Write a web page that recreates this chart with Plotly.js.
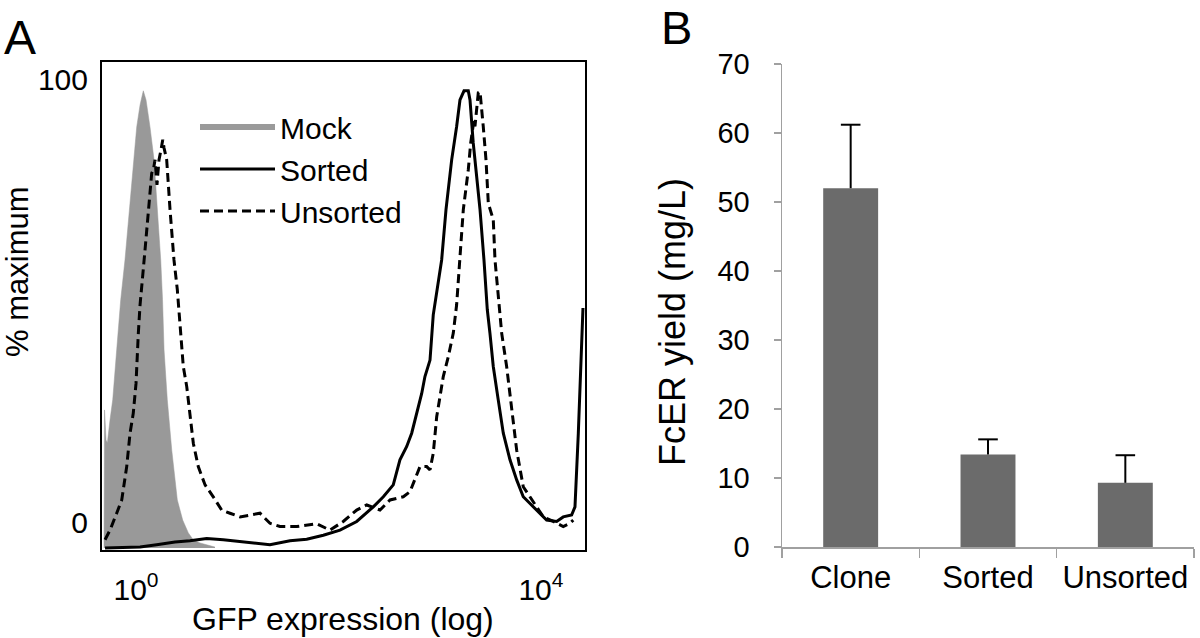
<!DOCTYPE html>
<html><head><meta charset="utf-8">
<script src="https://cdn.plot.ly/plotly-3.0.1.min.js"></script>
<style>html,body{margin:0;padding:0;background:#fff}#chart{width:1200px;height:638px}</style>
</head><body><div id="chart"></div>
<script>
const FONT = '"Liberation Sans", Arial, Helvetica, sans-serif';

// ---- Panel A: GFP histograms (x = log10 GFP, y = % of maximum) ----
const mockLogGFP = [-0.316,-0.311,-0.296,-0.283,-0.257,-0.230,-0.191,-0.151,-0.109,-0.066,-0.027,0.007,0.040,0.072,0.099,0.138,0.178,0.214,0.244,0.262,0.277,0.309,0.353,0.408,0.461,0.517,0.566,0.632,0.698,0.780];
const mockPct    = [0,30.2,23.6,23.0,28.0,32.4,43.3,54.3,63.0,74.0,84.9,92.1,96.9,100,98.0,92.1,84.9,74.0,63.0,54.3,43.3,32.4,21.4,10.5,6.1,3.3,1.75,1.1,0.66,0.2];

const sortedLogGFP = [-0.306,0.040,0.204,0.385,0.533,0.698,0.862,1.027,1.192,1.323,1.521,1.686,1.850,2.015,2.180,2.344,2.443,2.541,2.607,2.674,2.723,2.772,2.822,2.854,2.904,2.936,3.019,3.062,3.101,3.118,3.167,3.200,3.240,3.282,3.299,3.331,3.365,3.398,3.437,3.470,3.496,3.529,3.578,3.628,3.694,3.760,3.825,3.924,3.990,4.056,4.155,4.220,4.303,4.336,4.369,4.402,4.415];
const sortedPct    = [0,0.2,0.7,1.3,1.6,2.1,1.8,1.4,1.0,0.7,1.6,1.9,2.8,3.9,5.8,9.0,11.2,13.8,19.3,22.2,25.1,29.5,33.8,37.5,41.1,51.0,63.0,74.0,82.0,84.9,92.2,98.0,100,100,98.0,88.6,81.2,74.0,63.0,52.1,47.0,39.7,32.4,25.1,19.3,14.9,11.2,9.0,7.6,6.1,5.8,6.8,7.2,9.0,25.1,47.0,52.5];

const unsortedLogGFP = [-0.306,-0.257,-0.191,-0.141,-0.092,-0.059,-0.027,0,0.023,0.040,0.089,0.121,0.155,0.171,0.188,0.207,0.227,0.247,0.264,0.277,0.303,0.336,0.375,0.408,0.428,0.467,0.501,0.533,0.566,0.615,0.682,0.763,0.846,0.928,1.027,1.126,1.225,1.323,1.422,1.587,1.785,1.916,2.047,2.180,2.279,2.410,2.509,2.640,2.706,2.805,2.871,2.904,2.936,2.970,3.035,3.085,3.134,3.167,3.200,3.233,3.282,3.306,3.338,3.348,3.381,3.398,3.430,3.457,3.480,3.529,3.546,3.578,3.612,3.661,3.711,3.760,3.825,3.892,3.958,4.023,4.122,4.220,4.286,4.319];
const unsortedPct    = [1.8,3.9,7.6,10.5,17.8,25.1,29.5,36.0,47.0,53.2,65.2,74.0,82.0,82.7,84.9,79.4,84.9,87.1,89.3,87.5,84.9,74.0,63.0,56.5,50.3,39.7,35.3,28.7,22.9,17.8,13.8,11.2,8.3,7.6,6.8,7.2,7.6,5.4,4.7,4.7,5.3,3.9,5.8,8.3,9.4,8.3,10.5,11.2,12.3,17.8,17.8,17.1,20.7,28.7,37.5,41.9,47.0,53.2,63.0,74.0,82.7,88.6,93.6,92.2,99.6,99.8,92.2,84.9,75.4,71.8,63.0,55.1,47.0,39.7,30.9,21.4,13.4,11.2,9.0,6.8,5.8,4.7,5.4,6.1];

const histLegend = ['Mock','Sorted','Unsorted'];
const histTickVals = [0, 4];
const histTickText = ['10<sup>0</sup>', '10<sup>4</sup>'];
const pctTickText = ['0', '100'];

// ---- Panel B: FcER yield ----
const yieldCategories = ['Clone','Sorted','Unsorted'];
const yieldValues = [52.0, 13.4, 9.3];
const yieldErrors = [9.2, 2.2, 4.0];

const W = 1200, H = 638;
const px = v => v / W, py = v => 1 - v / H;

const traces = [
  {x: mockLogGFP, y: mockPct, type:'scatter', mode:'lines', fill:'tozeroy',
   fillcolor:'#999999', line:{color:'#999999', width:0.5}, showlegend:false, xaxis:'x', yaxis:'y', hoverinfo:'skip'},
  {x:[null], y:[null], type:'scatter', mode:'lines', name: histLegend[0],
   line:{color:'#9a9a9a', width:6}, xaxis:'x', yaxis:'y'},
  {x: sortedLogGFP, y: sortedPct, type:'scatter', mode:'lines', name: histLegend[1],
   line:{color:'#000', width:3}, xaxis:'x', yaxis:'y'},
  {x: unsortedLogGFP, y: unsortedPct, type:'scatter', mode:'lines', name: histLegend[2],
   line:{color:'#000', width:3, dash:'9px,5px'}, xaxis:'x', yaxis:'y'},
  {x: yieldCategories, y: yieldValues, type:'bar', showlegend:false,
   marker:{color:'#6b6b6b'}, xaxis:'x2', yaxis:'y2',
   error_y:{type:'data', array: yieldErrors, arrayminus: yieldErrors.map(()=>0), symmetric:false,
            color:'#000', thickness:2, width:0}},
  // caps on the upper end of the one-sided error bars
  {x: yieldCategories, y: yieldValues.map((v,i)=>v + yieldErrors[i]), type:'scatter', mode:'markers',
   showlegend:false, xaxis:'x2', yaxis:'y2', cliponaxis:false,
   marker:{symbol:'line-ew', size:14, color:'#000', line:{color:'#000', width:2}}}
];

const layout = {
  width: W, height: H,
  margin:{l:0, r:0, t:0, b:0},
  paper_bgcolor:'#fff', plot_bgcolor:'rgba(0,0,0,0)',
  font:{family: FONT, size: 30, color:'#000'},
  showlegend: true,
  legend:{x: px(195), y: py(101), xanchor:'left', yanchor:'top', bgcolor:'rgba(0,0,0,0)',
          font:{family: FONT, size: 30, color:'#000'}, itemwidth: 75, tracegroupgap: 0},
  bargap: 0.6,
  xaxis:{domain:[px(102), px(585)], range:[-0.336, 4.435], showgrid:false, zeroline:false,
         showline:true, mirror:true, linecolor:'#000', linewidth:2, ticks:'',
         tickvals: histTickVals, ticktext: histTickText, ticklabelstandoff: 12,
         tickfont:{family: FONT, size: 30}, anchor:'y'},
  yaxis:{domain:[py(550), py(62)], range:[-0.44, 106.3], showgrid:false, zeroline:false,
         showline:true, mirror:true, linecolor:'#000', linewidth:2, ticks:'',
         tickvals:[5.5, 102.5], ticktext: pctTickText, ticklabelstandoff: 6,
         tickfont:{family: FONT, size: 30}, anchor:'x'},
  xaxis2:{domain:[px(782), px(1194)], type:'category', showgrid:false, zeroline:false,
          showline:true, linecolor:'#a0a0a0', linewidth:1.5, ticks:'outside', tickson:'boundaries',
          ticklen:9, tickwidth:1.5, tickcolor:'#a0a0a0', ticklabelstandoff: 2, tickangle:0,
          tickfont:{family: FONT, size: 31}, anchor:'y2'},
  yaxis2:{domain:[py(547), py(64)], range:[0, 70], dtick:10, showgrid:false, zeroline:false,
          showline:true, linecolor:'#a0a0a0', linewidth:1.5, ticks:'outside', ticklen:7,
          tickwidth:1.5, tickcolor:'#a0a0a0', ticklabelstandoff: 18,
          tickfont:{family: FONT, size: 29}, anchor:'x2'},
  annotations:[
    {text:'A', x: px(2), y: py(37), xref:'paper', yref:'paper', xanchor:'left', yanchor:'middle',
     showarrow:false, font:{family: FONT, size: 48}},
    {text:'B', x: px(659), y: py(27), xref:'paper', yref:'paper', xanchor:'left', yanchor:'middle',
     showarrow:false, font:{family: FONT, size: 47}},
    {text:'% maximum', x: px(17), y: py(272), xref:'paper', yref:'paper', xanchor:'center', yanchor:'middle',
     textangle:-90, showarrow:false, font:{family: FONT, size: 31}},
    {text:'GFP expression (log)', x: px(343), y: py(619), xref:'paper', yref:'paper', xanchor:'center', yanchor:'middle',
     showarrow:false, font:{family: FONT, size: 32}},
    {text:'FcER yield (mg/L)', x: px(672), y: py(322), xref:'paper', yref:'paper', xanchor:'center', yanchor:'middle',
     textangle:-90, showarrow:false, font:{family: FONT, size: 36}}
  ]
};

Plotly.newPlot('chart', traces, layout, {staticPlot:true, displayModeBar:false});
</script></body></html>
